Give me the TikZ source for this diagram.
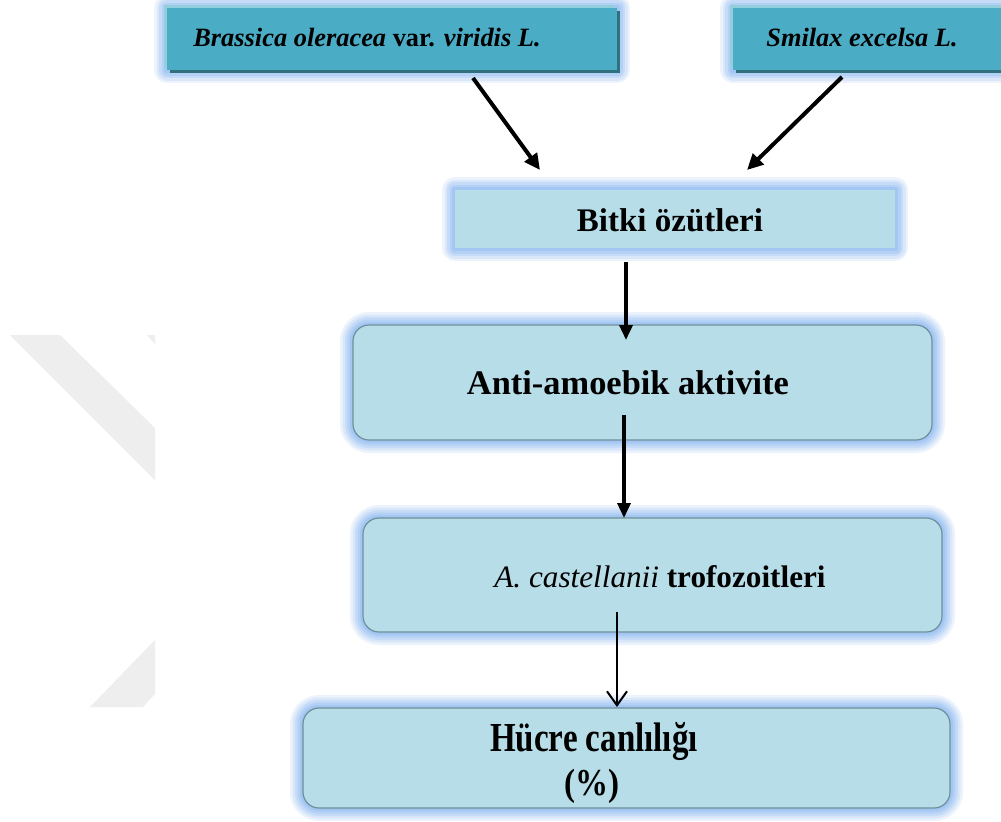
\documentclass[tikz,border=0pt]{standalone}
\usepackage{fontspec}
\setmainfont{Liberation Serif}
\usetikzlibrary{shadows,arrows.meta}
\definecolor{topfill}{HTML}{4BACC6}
\definecolor{topshadow}{HTML}{31707F}
\definecolor{topedge}{HTML}{93CEDD}
\definecolor{lowfill}{HTML}{B7DEE8}
\definecolor{lowborder}{HTML}{6F8F9A}
\definecolor{glow}{HTML}{7FB0F0}
\definecolor{wm}{HTML}{EEEEEE}
\tikzset{
  glowing/.style={
    preaction={draw=glow, draw opacity=0.14, line width=13pt, line join=round},
    preaction={draw=glow, draw opacity=0.17, line width=10.5pt, line join=round},
    preaction={draw=glow, draw opacity=0.21, line width=8pt, line join=round},
    preaction={draw=glow, draw opacity=0.25, line width=5.5pt, line join=round},
    preaction={draw=glow, draw opacity=0.3, line width=3pt, line join=round}},
  topbox/.style={glowing, rectangle, fill=topfill, inner sep=0pt,
    general shadow={shadow xshift=-1.5pt, shadow yshift=1.5pt, fill=topedge},
    general shadow={shadow xshift=1.5pt, shadow yshift=-1.5pt, fill=topshadow}},
  flatbox/.style={glowing, rectangle, fill=lowfill, inner sep=0pt},
  roundbox/.style={glowing, rectangle, rounded corners=8pt, fill=lowfill,
    draw=lowborder, line width=0.6pt, inner sep=0pt},
  toptext/.style={inner sep=0pt, font=\fontsize{13.2}{15}\selectfont\bfseries},
  lowtext/.style={inner sep=0pt, font=\fontsize{16.5}{19}\selectfont\bfseries},
  thickarrow/.style={draw=black, line width=2pt, -{Triangle[length=8pt,width=7.5pt]}},
  midarrow/.style={draw=black, line width=1.7pt, -{Triangle[length=7.5pt,width=6.5pt]}},
  thinarrow/.style={draw=black, line width=1pt, -{Straight Barb[length=7pt,width=10pt,line width=1pt]}}
}
\begin{document}
\begin{tikzpicture}[x=0.5pt,y=-0.5pt]
\useasboundingbox (0,0) rectangle (1001,821);
\clip (0,0) rectangle (1001,821);
\fill[white] (0,0) rectangle (1001,821);
% watermark
\fill[wm] (10,335) -- (60,335) -- (155,428) -- (155,480) -- cycle;
\fill[wm] (147,335) -- (155,335) -- (155,344) -- cycle;
\fill[wm] (155,640) -- (155,694) -- (143,707) -- (90,707) -- cycle;
% boxes
\node[topbox, minimum width=225pt, minimum height=31pt] (brassica) at (392,39) {};
\node[topbox, minimum width=160pt, minimum height=31pt] (smilax) at (893,39) {};
\node[flatbox, minimum width=220pt, minimum height=29pt] (bitki) at (675,219) {};
\node[roundbox, minimum width=289.5pt, minimum height=57.5pt] (anti) at (642.5,382.5) {};
\node[roundbox, minimum width=289.5pt, minimum height=57pt] (acast) at (652.5,575) {};
\node[roundbox, minimum width=323.5pt, minimum height=50pt] (hucre) at (626.5,758) {};
% texts
\node[toptext] (brassicat) at (367,38) {\textit{Brassica oleracea} var. \textit{viridis L.}};
\node[toptext] (smilaxt) at (862,38) {\textit{Smilax excelsa L.}};
\node[lowtext] (bitkit) at (670,220) {Bitki özütleri};
\node[lowtext, font=\fontsize{17.2}{20}\selectfont\bfseries] (antit) at (628,383) {Anti-amoebik aktivite};
\node[lowtext, font=\fontsize{15.6}{19}\selectfont\bfseries] (acastt) at (660,577) {\mdseries\textit{A. castellanii} \bfseries trofozoitleri};
\node[lowtext] (hucret) at (594,742) {\scalebox{1}[1.25]{Hücre canlılığı}};
\node[lowtext] (hucrep) at (592,786) {\scalebox{1}[1.15]{(\%)}};
% connector end points
\coordinate (a1s) at (473,78);
\coordinate (a1e) at (540,170);
\coordinate (a2s) at (842,77);
\coordinate (a2e) at (747,170);
\coordinate (a3s) at (626,262);
\coordinate (a3e) at (626,340);
\coordinate (a4s) at (624,415);
\coordinate (a4e) at (624,518);
\coordinate (a5s) at (617,612);
\coordinate (a5e) at (617,707);
\draw[thickarrow] (a1s) -- (a1e);
\draw[thickarrow] (a2s) -- (a2e);
\draw[midarrow] (a3s) -- (a3e);
\draw[midarrow] (a4s) -- (a4e);
\draw[thinarrow] (a5s) -- (a5e);
\end{tikzpicture}
\end{document}
